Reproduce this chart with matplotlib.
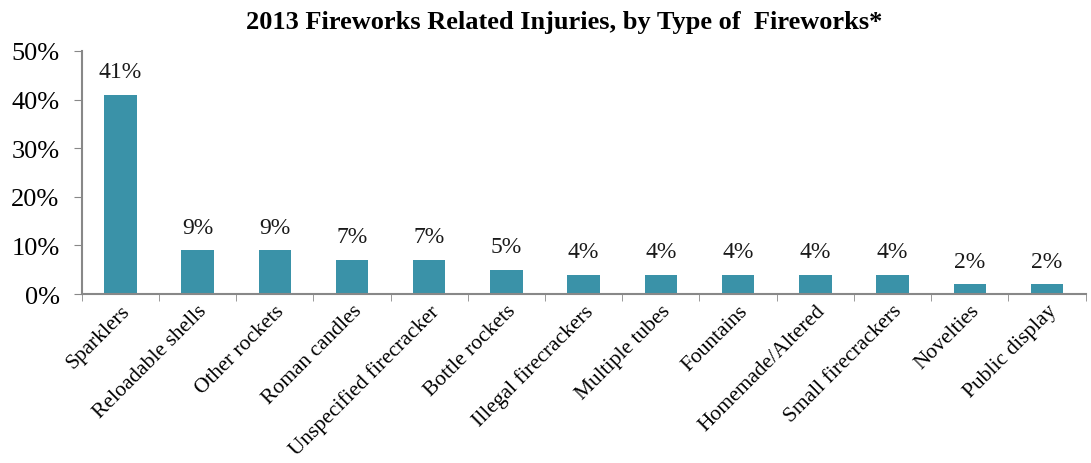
import matplotlib
matplotlib.use("Agg")
import matplotlib.pyplot as plt
import numpy as np

# data
categories = ["Sparklers", "Reloadable shells", "Other rockets", "Roman candles",
              "Unspecified firecracker", "Bottle rockets", "Illegal firecrackers",
              "Multiple tubes", "Fountains", "Homemade/Altered",
              "Small firecrackers", "Novelties", "Public display"]
shares = [41, 9, 9, 7, 7, 5, 4, 4, 4, 4, 4, 2, 2]
yticks = [0, 10, 20, 30, 40, 50]

plt.rcParams['font.family'] = ['Liberation Serif', 'DejaVu Serif']

fig = plt.figure(figsize=(10.91, 4.64), dpi=100)
ax = fig.add_axes([0.075, 0.364, 0.920, 0.524])

x = np.arange(len(categories))
bars = ax.bar(x, shares, width=0.42, color="#3A92A8")
for xi, v in zip(x, shares):
    ax.text(xi, v + 2.6, f"{v}%", ha="center", va="bottom", fontsize=17, color="#1a1a1a")

ax.set_xlim(-0.5, len(categories) - 0.5)
ax.set_ylim(0, 50)
ax.set_yticks(yticks)
ax.set_yticklabels([f"{t}%" for t in yticks], fontsize=19)

ax.set_xticks(x)
ax.set_xticklabels(categories, rotation=45, ha="right", rotation_mode="anchor", fontsize=15.5)
ax.tick_params(axis="x", length=0, pad=5)
ax.set_xticks(np.arange(-0.5, len(categories), 1), minor=True)
ax.tick_params(axis="x", which="minor", length=5, color="#888888", direction="out")
ax.tick_params(axis="y", length=6, color="#888888", direction="out", pad=10)

for s in ["top", "right"]:
    ax.spines[s].set_visible(False)
for s in ["left", "bottom"]:
    ax.spines[s].set_color("#888888")
    ax.spines[s].set_linewidth(1.5)

fig.text(564 / 1091, 1 - 22 / 464, "2013 Fireworks Related Injuries, by Type of  Fireworks*",
         ha="center", va="center", fontsize=19, fontweight="bold")

fig.savefig("out.png", dpi=100)
